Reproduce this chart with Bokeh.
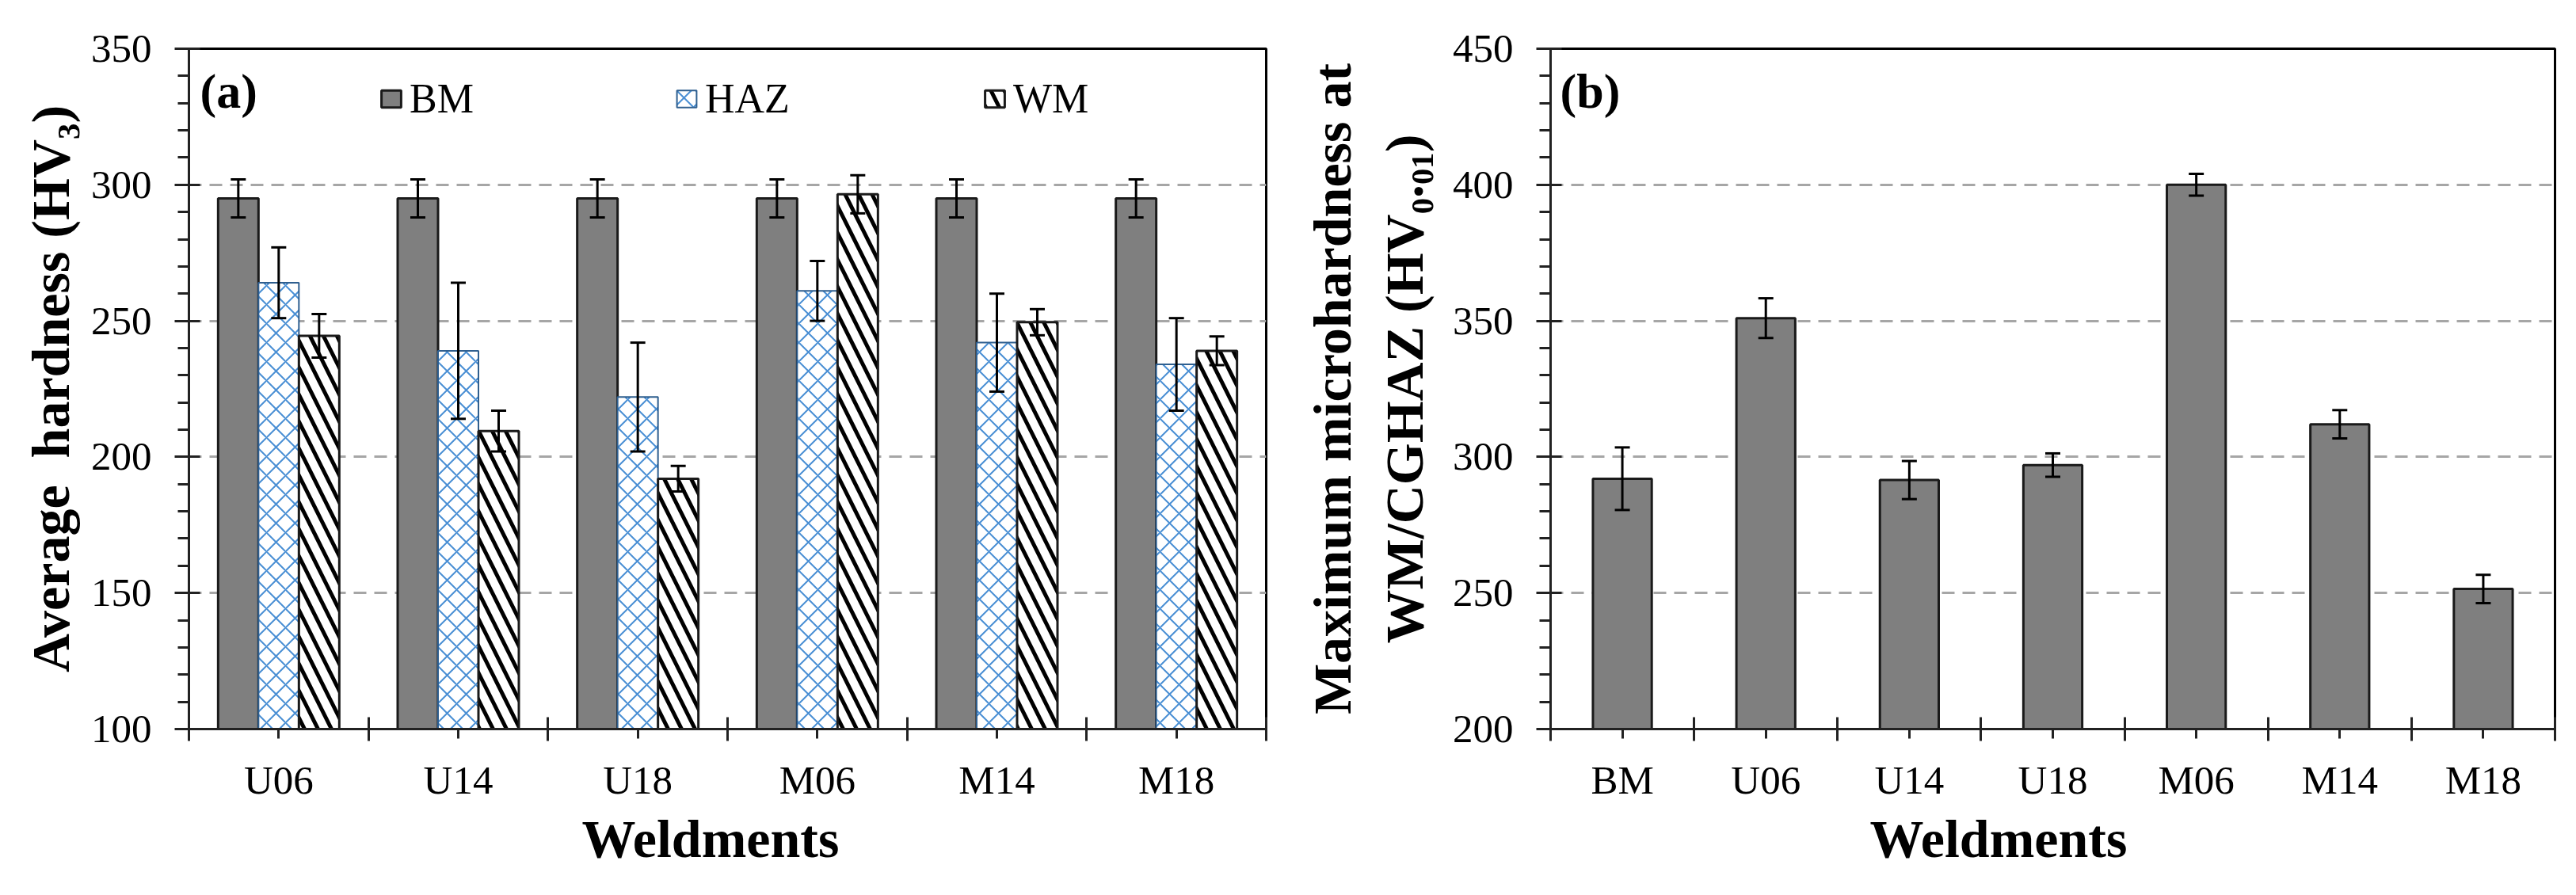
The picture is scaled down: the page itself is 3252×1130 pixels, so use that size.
import numpy as np
from bokeh.plotting import figure
from bokeh.models import (ColumnDataSource, Range1d, FixedTicker, Whisker, TeeHead,
                          Label, Legend, LegendItem, Title)
from bokeh.transform import dodge
from bokeh.layouts import row
from bokeh.embed import file_html
from bokeh.resources import INLINE

# ---------------- data ----------------
weldments_a = ["U06", "U14", "U18", "M06", "M14", "M18"]
bm_mean = [295, 295, 295, 295, 295, 295]
bm_err = [7, 7, 7, 7, 7, 7]
haz_mean = [264, 239, 222, 261, 242, 234]
haz_err = [13, 25, 20, 11, 18, 17]
wm_mean = [244.5, 209.5, 192, 296.5, 249.5, 239]
wm_err = [8, 7.5, 4.7, 7, 4.8, 5.3]

weldments_b = ["BM", "U06", "U14", "U18", "M06", "M14", "M18"]
micro_mean = [292, 351, 291.5, 297, 400, 312, 251.5]
micro_err = [11.5, 7.3, 7, 4.3, 4, 5.2, 5.2]

yticks_a = [100, 150, 200, 250, 300, 350]
yticks_b = [200, 250, 300, 350, 400, 450]

ylabel_a = "Average\u00a0 hardness (HV\u2083)"
ylabel_b = "Maximum microhardness at\nWM/CGHAZ (HV\u2080.\u2080\u2081)"
xlabel = "Weldments"

FONT = "Liberation Serif"
GRAY = "#7f7f7f"


def style(p, yt, n):
    p.outline_line_color = "black"
    p.outline_line_width = 3
    p.outline_line_alpha = 1
    p.background_fill_color = "white"
    p.border_fill_color = "white"
    p.xgrid.visible = False
    p.ygrid.ticker = FixedTicker(ticks=yt[1:-1])
    p.ygrid.grid_line_color = "#a6a6a6"
    p.ygrid.grid_line_width = 3
    p.ygrid.grid_line_dash = "16 10"

    ya = p.yaxis[0]
    ya.ticker = FixedTicker(ticks=yt, minor_ticks=list(range(yt[0], yt[-1] + 1, 10)))
    ya.major_tick_in = 14
    ya.major_tick_out = 18
    ya.minor_tick_in = 0
    ya.minor_tick_out = 14
    ya.major_tick_line_width = 3
    ya.minor_tick_line_width = 3
    ya.major_tick_line_color = "#222222"
    ya.minor_tick_line_color = "#222222"
    ya.axis_line_width = 3
    ya.axis_line_color = "#222222"
    ya.major_label_text_font = FONT
    ya.major_label_text_font_size = "51px"
    ya.major_label_text_color = "black"
    ya.major_label_standoff = 29
    ya.axis_label_text_font = FONT
    ya.axis_label_text_font_size = "68px"
    ya.axis_label_text_font_style = "bold"
    ya.axis_label_text_color = "black"

    xa = p.xaxis[0]
    centers = [float(i) + 0.5 for i in range(n)]
    bounds = [float(i) for i in range(n + 1)]
    xa.ticker = FixedTicker(ticks=centers, minor_ticks=bounds)
    xa.major_tick_in = 0
    xa.major_tick_out = 12
    xa.minor_tick_in = 15
    xa.minor_tick_out = 15
    xa.major_tick_line_width = 3
    xa.minor_tick_line_width = 3
    xa.major_tick_line_color = "#222222"
    xa.minor_tick_line_color = "#222222"
    xa.axis_line_width = 3
    xa.axis_line_color = "#222222"
    xa.major_label_text_font = FONT
    xa.major_label_text_font_size = "51px"
    xa.major_label_text_color = "black"
    xa.major_label_standoff = 21


def label(p, text, x, y, size, bold=True):
    p.add_layout(Label(x=x, y=y, x_units="screen", y_units="screen", text=text,
                       text_font=FONT, text_font_size=size,
                       text_font_style="bold" if bold else "normal",
                       text_color="black", text_align="left",
                       text_baseline="alphabetic"))


def xtitle(p, offset):
    p.add_layout(Title(text=xlabel, align="left", offset=offset, standoff=7,
                       text_font=FONT, text_font_size="68px", text_font_style="bold",
                       text_color="black"), "below")


def whisk(src, base, up, lo):
    return Whisker(source=src, base=base, upper=up, lower=lo, dimension="height",
                   line_width=3, line_color="black", level="overlay",
                   upper_head=TeeHead(size=19, line_width=3, line_color="black"),
                   lower_head=TeeHead(size=19, line_width=3, line_color="black"))


# ---------------- panel (a) ----------------
na = len(weldments_a)
src_a = ColumnDataSource(dict(
    pos=np.arange(na) + 0.5,
    bm=bm_mean, bm_up=np.add(bm_mean, bm_err), bm_lo=np.subtract(bm_mean, bm_err),
    haz=haz_mean, haz_up=np.add(haz_mean, haz_err), haz_lo=np.subtract(haz_mean, haz_err),
    wm=wm_mean, wm_up=np.add(wm_mean, wm_err), wm_lo=np.subtract(wm_mean, wm_err),
))

pa = figure(frame_width=1360, frame_height=859, min_border_left=238, min_border_right=42,
            min_border_top=61, min_border_bottom=194,
            x_range=Range1d(0, na), y_range=Range1d(yticks_a[0], yticks_a[-1]),
            output_backend="svg", toolbar_location=None)
style(pa, yticks_a, na)
pa.xaxis[0].major_label_overrides = {float(i) + 0.5: w for i, w in enumerate(weldments_a)}
pa.yaxis[0].axis_label = ylabel_a
pa.yaxis[0].axis_label_standoff = 10

bw = 0.225
r_bm = pa.vbar(x=dodge("pos", -bw), top="bm", bottom=yticks_a[0], width=bw, source=src_a,
               fill_color=GRAY, line_color="#1a1a1a", line_width=3)
r_haz = pa.vbar(x=dodge("pos", 0.0), top="haz", bottom=yticks_a[0], width=bw, source=src_a,
                fill_color="white", hatch_pattern="diagonal_cross", hatch_color="#4a8fd4",
                hatch_weight=2, hatch_scale=24, line_color="#2f5f8f", line_width=2)
r_wm = pa.vbar(x=dodge("pos", bw), top="wm", bottom=yticks_a[0], width=bw, source=src_a,
               fill_color="white", hatch_pattern="left_diagonal_line", hatch_color="black",
               hatch_weight=5, hatch_scale=34, line_color="#1a1a1a", line_width=3)

pa.add_layout(whisk(src_a, dodge("pos", -bw), "bm_up", "bm_lo"))
pa.add_layout(whisk(src_a, dodge("pos", 0.0), "haz_up", "haz_lo"))
pa.add_layout(whisk(src_a, dodge("pos", bw), "wm_up", "wm_lo"))

for name, r, lx in [("BM", r_bm, 240), ("HAZ", r_haz, 613), ("WM", r_wm, 1002)]:
    lg = Legend(items=[LegendItem(label=name, renderers=[r])], location=(lx, 766),
                padding=0, margin=0, border_line_alpha=0, background_fill_alpha=0,
                glyph_width=31, glyph_height=27, label_height=27, label_standoff=8,
                label_text_font=FONT, label_text_font_size="52px", label_text_color="black")
    pa.add_layout(lg)

label(pa, "(a)", 14, 806, "62px")
xtitle(pa, 496)

# ---------------- panel (b) ----------------
nb = len(weldments_b)
src_b = ColumnDataSource(dict(
    pos=np.arange(nb) + 0.5,
    v=micro_mean, up=np.add(micro_mean, micro_err), lo=np.subtract(micro_mean, micro_err),
))

pb = figure(frame_width=1268, frame_height=859, min_border_left=302, min_border_right=26,
            min_border_top=61, min_border_bottom=194,
            x_range=Range1d(0, nb), y_range=Range1d(yticks_b[0], yticks_b[-1]),
            output_backend="svg", toolbar_location=None)
style(pb, yticks_b, nb)
pb.xaxis[0].major_label_overrides = {float(i) + 0.5: w for i, w in enumerate(weldments_b)}
pb.yaxis[0].axis_label = ylabel_b
pb.yaxis[0].axis_label_standoff = 20

pb.vbar(x="pos", top="v", bottom=yticks_b[0], width=0.41, source=src_b,
        fill_color=GRAY, line_color="#1a1a1a", line_width=3)
pb.add_layout(whisk(src_b, "pos", "up", "lo"))

label(pb, "(b)", 12, 806, "62px")
xtitle(pb, 403)

layout = row(pa, pb, spacing=0)
open("out.html", "w").write(file_html(layout, INLINE))
